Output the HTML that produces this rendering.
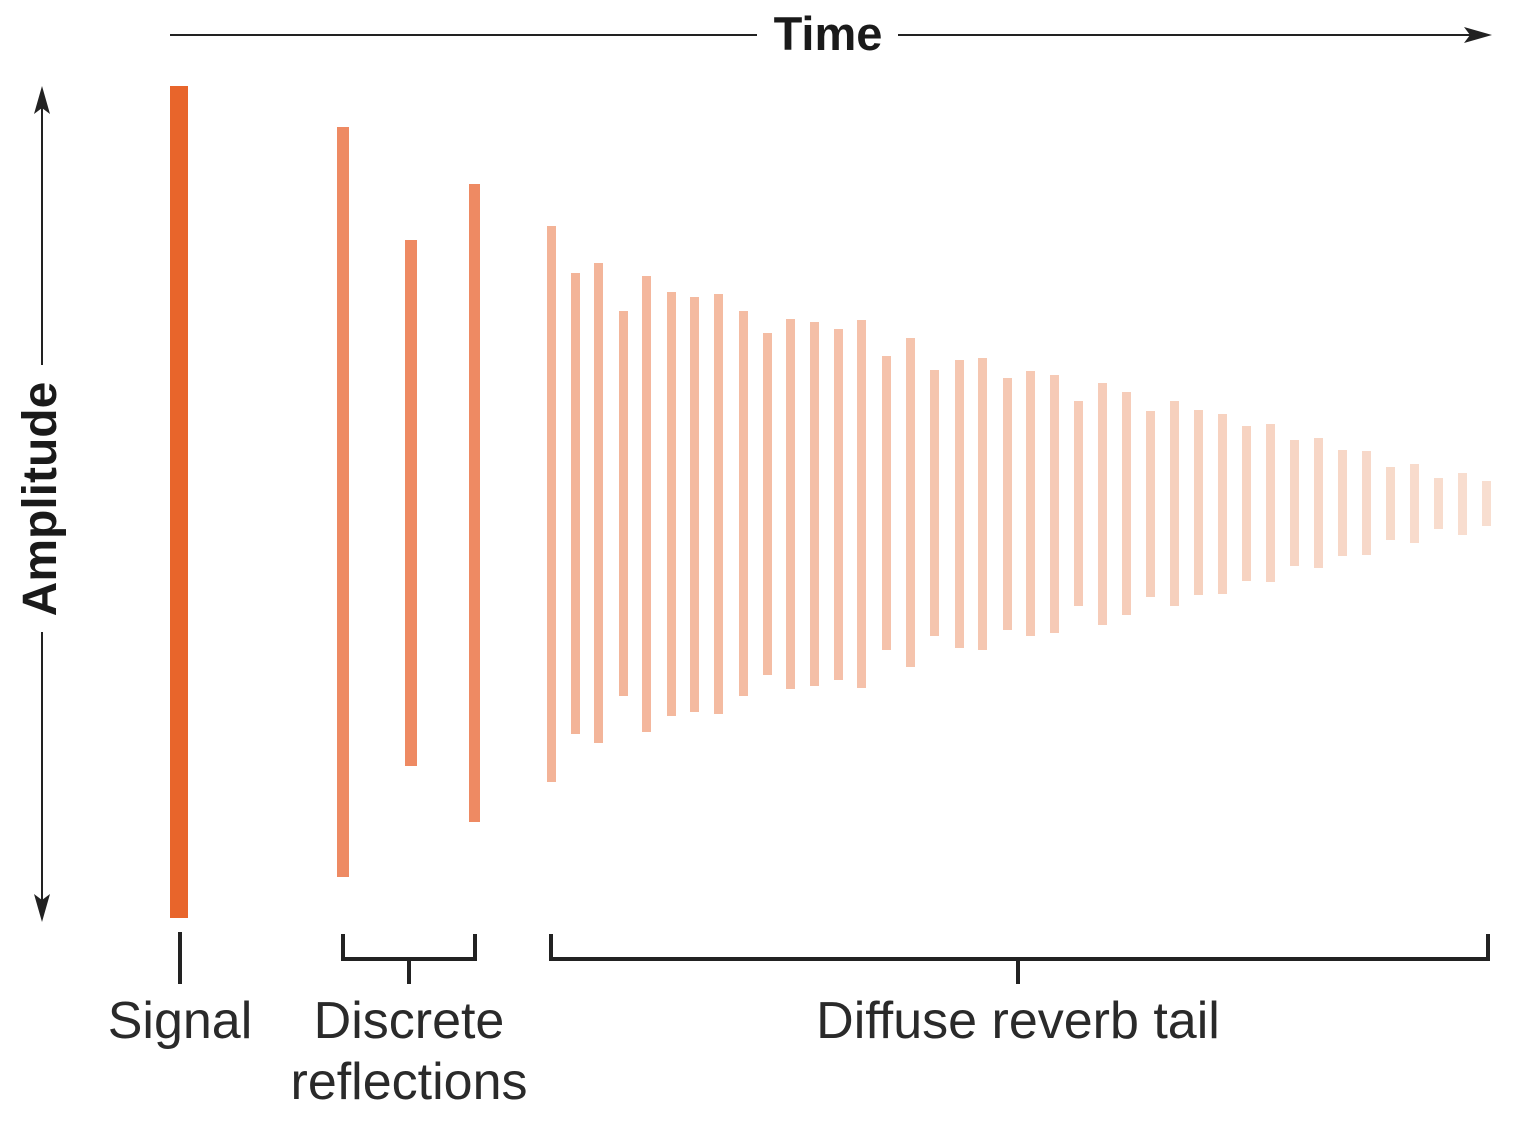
<!DOCTYPE html>
<html><head><meta charset="utf-8"><style>
html,body{margin:0;padding:0;background:#fff;}
svg{display:block;}
</style></head><body>
<svg width="1536" height="1127" viewBox="0 0 1536 1127" xmlns="http://www.w3.org/2000/svg">
<g stroke="#222" stroke-width="2" fill="none">
<line x1="170" y1="35" x2="757" y2="35"/>
<line x1="898" y1="35" x2="1478" y2="35"/>
<line x1="42" y1="100" x2="42" y2="365"/>
<line x1="42" y1="632" x2="42" y2="905"/>
</g>
<polygon points="1492,35 1464,27 1470,35 1464,43" fill="#222"/>
<polygon points="42,86 34,114 42,108 50,114" fill="#222"/>
<polygon points="42,922 34,894 42,900 50,894" fill="#222"/>
<text x="828" y="50" font-family="Liberation Sans, sans-serif" font-weight="bold" font-size="47" text-anchor="middle" fill="#1a1a1a">Time</text>
<text transform="translate(56,499) rotate(-90)" font-family="Liberation Sans, sans-serif" font-weight="bold" font-size="48" text-anchor="middle" fill="#1a1a1a">Amplitude</text>
<rect x="170" y="86" width="18" height="832" fill="#e8652b"/>
<rect x="337" y="127" width="12" height="750" fill="#ee8a63"/>
<rect x="405" y="240" width="12" height="526" fill="#ee8a63"/>
<rect x="469" y="184" width="11" height="638" fill="#ee8a63"/>
<g>
<rect x="547" y="226" width="9" height="556" fill="rgb(243,179,151)"/>
<rect x="571" y="273" width="9" height="461" fill="rgb(243,180,152)"/>
<rect x="594" y="263" width="9" height="480" fill="rgb(243,181,154)"/>
<rect x="619" y="311" width="9" height="385" fill="rgb(243,182,155)"/>
<rect x="642" y="276" width="9" height="456" fill="rgb(244,183,157)"/>
<rect x="667" y="292" width="9" height="424" fill="rgb(244,185,158)"/>
<rect x="690" y="297" width="9" height="415" fill="rgb(244,186,160)"/>
<rect x="714" y="294" width="9" height="420" fill="rgb(244,187,161)"/>
<rect x="739" y="311" width="9" height="385" fill="rgb(244,188,163)"/>
<rect x="763" y="333" width="9" height="342" fill="rgb(244,189,164)"/>
<rect x="786" y="319" width="9" height="370" fill="rgb(244,190,166)"/>
<rect x="810" y="322" width="9" height="364" fill="rgb(244,191,167)"/>
<rect x="834" y="329" width="9" height="351" fill="rgb(245,192,169)"/>
<rect x="857" y="320" width="9" height="368" fill="rgb(245,193,170)"/>
<rect x="882" y="356" width="9" height="294" fill="rgb(245,194,171)"/>
<rect x="906" y="338" width="9" height="329" fill="rgb(245,196,173)"/>
<rect x="930" y="370" width="9" height="266" fill="rgb(245,197,174)"/>
<rect x="955" y="360" width="9" height="288" fill="rgb(245,198,176)"/>
<rect x="978" y="358" width="9" height="292" fill="rgb(245,199,177)"/>
<rect x="1003" y="378" width="9" height="252" fill="rgb(245,200,179)"/>
<rect x="1026" y="371" width="9" height="265" fill="rgb(246,201,180)"/>
<rect x="1050" y="375" width="9" height="258" fill="rgb(246,202,182)"/>
<rect x="1074" y="401" width="9" height="205" fill="rgb(246,203,183)"/>
<rect x="1098" y="383" width="9" height="242" fill="rgb(246,204,185)"/>
<rect x="1122" y="392" width="9" height="223" fill="rgb(246,205,186)"/>
<rect x="1146" y="411" width="9" height="186" fill="rgb(246,207,188)"/>
<rect x="1170" y="401" width="9" height="205" fill="rgb(246,208,189)"/>
<rect x="1194" y="410" width="9" height="185" fill="rgb(246,209,190)"/>
<rect x="1218" y="414" width="9" height="180" fill="rgb(247,210,192)"/>
<rect x="1242" y="426" width="9" height="155" fill="rgb(247,211,193)"/>
<rect x="1266" y="424" width="9" height="158" fill="rgb(247,212,195)"/>
<rect x="1290" y="440" width="9" height="126" fill="rgb(247,213,196)"/>
<rect x="1314" y="438" width="9" height="130" fill="rgb(247,214,198)"/>
<rect x="1338" y="450" width="9" height="106" fill="rgb(247,215,199)"/>
<rect x="1362" y="451" width="9" height="104" fill="rgb(247,216,201)"/>
<rect x="1386" y="467" width="9" height="73" fill="rgb(247,218,202)"/>
<rect x="1410" y="464" width="9" height="79" fill="rgb(248,219,204)"/>
<rect x="1434" y="478" width="9" height="51" fill="rgb(248,220,205)"/>
<rect x="1458" y="473" width="9" height="62" fill="rgb(248,221,207)"/>
<rect x="1482" y="481" width="9" height="45" fill="rgb(248,222,208)"/>
</g>
<g stroke="#222" stroke-width="4" fill="none">
<line x1="180" y1="932" x2="180" y2="984"/>
<polyline points="343,934 343,959 475,959 475,934"/>
<line x1="409" y1="959" x2="409" y2="984"/>
<polyline points="551,934 551,959 1488,959 1488,934"/>
<line x1="1018" y1="959" x2="1018" y2="984"/>
</g>
<g font-family="Liberation Sans, sans-serif" font-size="52" fill="#2a2a2a" text-anchor="middle">
<text x="180" y="1038">Signal</text>
<text x="409" y="1038">Discrete</text>
<text x="409" y="1099">reflections</text>
<text x="1018" y="1038">Diffuse reverb tail</text>
</g>
</svg>
</body></html>
